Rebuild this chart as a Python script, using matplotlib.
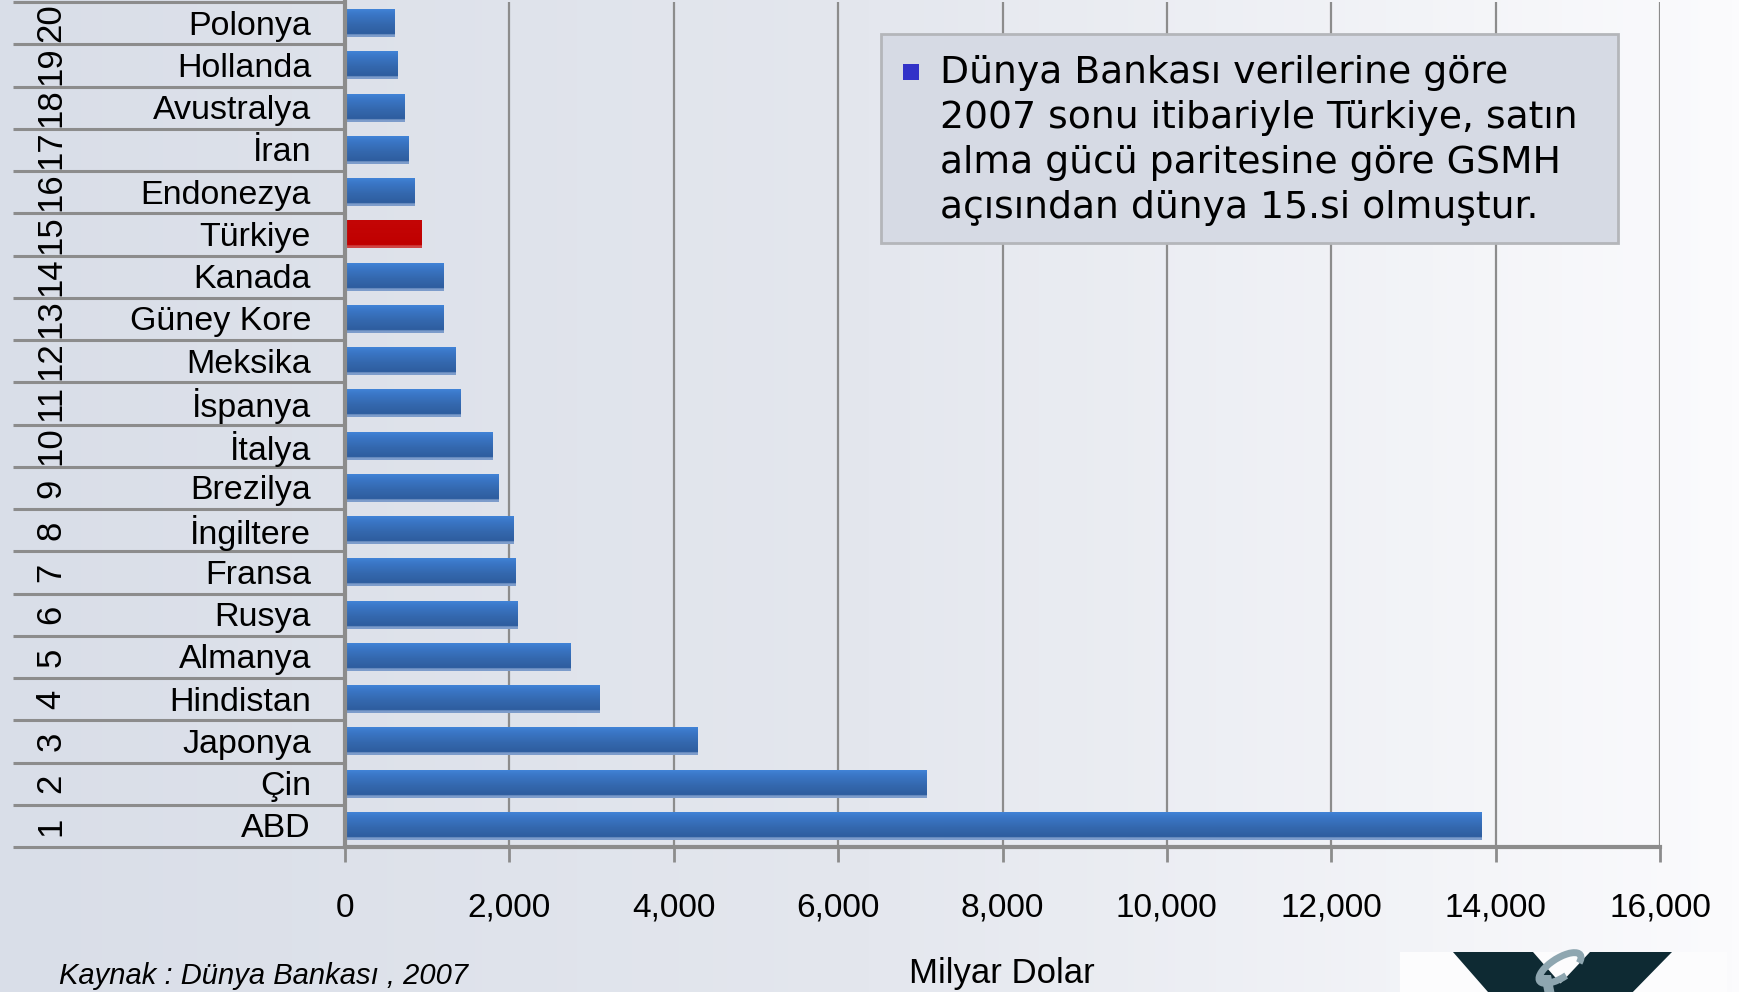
import numpy as np
import matplotlib
matplotlib.use("Agg")
import matplotlib.pyplot as plt
from matplotlib import font_manager
from matplotlib.colors import LinearSegmentedColormap
from matplotlib.patches import Rectangle, Polygon, Arc
import matplotlib.transforms as mtransforms

# ---------------- data ----------------
countries = ["ABD", "Çin", "Japonya", "Hindistan", "Almanya", "Rusya", "Fransa",
             "İngiltere", "Brezilya", "İtalya", "İspanya", "Meksika", "Güney Kore",
             "Kanada", "Türkiye", "Endonezya", "İran", "Avustralya", "Hollanda", "Polonya"]
ranks = [str(i) for i in range(1, 21)]
gdp_ppp = [13830, 7080, 4290, 3095, 2745, 2100, 2075, 2050, 1865, 1790,
           1405, 1340, 1200, 1200, 935, 850, 775, 730, 635, 605]
highlight = "Türkiye"
x_ticks = [0, 2000, 4000, 6000, 8000, 10000, 12000, 14000, 16000]
x_label = "Milyar Dolar"
source = "Kaynak : Dünya Bankası , 2007"
note_lines = ["Dünya Bankası verilerine göre",
              "2007 sonu itibariyle Türkiye, satın",
              "alma gücü paritesine göre GSMH",
              "açısından dünya 15.si olmuştur."]

# ---------------- fonts ----------------
available = {f.name for f in font_manager.fontManager.ttflist}
chart_font = "Liberation Sans" if "Liberation Sans" in available else "DejaVu Sans"
narrow_font = "Liberation Sans Narrow" if "Liberation Sans Narrow" in available else chart_font

W, H = 1739, 992
fig = plt.figure(figsize=(W / 100, H / 100), dpi=100)

# background gradient
bg = fig.add_axes([0, 0, 1, 1], zorder=-10)
bg.axis("off")
grad = np.linspace(0, 1, 256).reshape(1, -1)
bg_cmap = LinearSegmentedColormap.from_list("bg", ["#d9dee8", "#e4e7ee", "#fbfbfd"])
bg.imshow(grad, aspect="auto", cmap=bg_cmap, extent=[0, 1, 0, 1])
bg.set_xlim(0, 1)
bg.set_ylim(0, 1)

# main axes
ax_l, ax_r = 345 / W, 1660 / W
ax_b, ax_t = 1 - 847 / H, 1 - 2 / H
ax = fig.add_axes([ax_l, ax_b, ax_r - ax_l, ax_t - ax_b])
ax.set_facecolor("none")

y = np.arange(len(countries))
bar_h = 0.66
colors = ["#c00000" if c == highlight else "#3570be" for c in countries]
bars = ax.barh(y, gdp_ppp, height=bar_h, color=colors, zorder=3, linewidth=0)

blue_cmap = LinearSegmentedColormap.from_list(
    "bb", [(0, "#7d9ccb"), (0.08, "#7d9ccb"), (0.1, "#2e5d9e"), (0.45, "#3468ae"),
           (0.85, "#3b78c9"), (1, "#4183d6")])
red_cmap = LinearSegmentedColormap.from_list(
    "rb", [(0, "#d04545"), (0.08, "#d04545"), (0.1, "#c00000"), (1, "#c40606")])
vgrad = np.linspace(0, 1, 64).reshape(-1, 1)
for patch, c in zip(bars.patches, countries):
    x0, y0 = patch.get_x(), patch.get_y()
    w, h = patch.get_width(), patch.get_height()
    im = ax.imshow(vgrad, aspect="auto", origin="lower",
                   cmap=red_cmap if c == highlight else blue_cmap,
                   extent=[x0, x0 + w, y0, y0 + h], zorder=4)
    im.set_clip_path(patch)

ax.set_xlim(0, 16000)
ax.set_ylim(-0.5, len(countries) - 0.5)
ax.set_xticks(x_ticks)
ax.set_xticklabels([f"{v:,}" for v in x_ticks], fontsize=24, family=chart_font)
ax.tick_params(axis="x", length=11, width=2, color="#8c8c8c", pad=22)
ax.set_yticks([])
ax.grid(axis="x", color="#8c8c8c", linewidth=1.6, zorder=1)
ax.set_axisbelow(True)
for s in ["top", "right"]:
    ax.spines[s].set_visible(False)
for s in ["left", "bottom"]:
    ax.spines[s].set_color("#8c8c8c")
    ax.spines[s].set_linewidth(3)
    ax.spines[s].set_zorder(5)

# two-level category axis
trans = mtransforms.blended_transform_factory(ax.transAxes, ax.transData)
sep_left = (13 - 345) / 1315
for k in range(len(countries) + 1):
    ax.plot([sep_left, 0], [k - 0.5, k - 0.5], transform=trans, color="#8c8c8c",
            linewidth=2.2, clip_on=False, zorder=2, solid_capstyle="butt")
name_x = (311 - 345) / 1315
rank_x = (51 - 345) / 1315
for yi, (c, r) in enumerate(zip(countries, ranks)):
    ax.text(name_x, yi - 0.07, c, transform=trans, ha="right", va="center",
            fontsize=24.5, family=chart_font, color="black")
    ax.text(rank_x, yi, r, transform=trans, ha="center", va="center",
            fontsize=25, family=chart_font, rotation=90, color="black")

# axis title and source
fig.text(1002 / W, 1 - 973 / H, x_label, ha="center", va="center",
         fontsize=25, family=chart_font)
fig.text(59 / W, 1 - 976 / H, source, ha="left", va="center",
         fontsize=23 if narrow_font != chart_font else 21, family=narrow_font, style="italic")

# note box
box = Rectangle((881 / W, 1 - 243 / H), (1618 - 881) / W, (243 - 34) / H,
                transform=fig.transFigure, facecolor="#d6dae4", edgecolor="#b4b6ba",
                linewidth=2, zorder=6)
fig.patches.append(box)
bullet = Rectangle((903 / W, 1 - 80 / H), 16 / W, 16 / H, transform=fig.transFigure,
                   facecolor="#3232c8", edgecolor="none", zorder=7)
fig.patches.append(bullet)
for i, line in enumerate(note_lines):
    fig.text(940 / W, 1 - (83 + 45 * i) / H, line, ha="left", va="baseline",
             fontsize=27.2, family="DejaVu Sans", color="black", zorder=8)

# logo (decoration, bottom right)
fig.patches.append(Rectangle((1400 / W, 0), (1727 - 1400) / W, 40 / H,
                             transform=fig.transFigure, facecolor="#fcfcfd",
                             edgecolor="none", zorder=6))
dark = "#0e2a33"
lg = [[(1453, 952), (1533, 952), (1575, 1000), (1495, 1000)],
      [(1590, 952), (1672, 952), (1625, 1000), (1545, 1000)]]
for pts in lg:
    fig.patches.append(Polygon([(px / W, 1 - py / H) for px, py in pts],
                               closed=True, transform=fig.transFigure,
                               facecolor=dark, edgecolor="none", zorder=7))
fig.patches.append(Arc((1560 / W, 1 - 968 / H), 26 / W, 36 / H, angle=-35,
                       theta1=60, theta2=330, transform=fig.transFigure,
                       edgecolor="#8ea6b0", linewidth=5, zorder=8))
fig.patches.append(Polygon([(1541 / W, 1 - 975 / H), (1551 / W, 1 - 975 / H),
                            (1556 / W, 1 - 1000 / H), (1546 / W, 1 - 1000 / H)],
                           closed=True, transform=fig.transFigure,
                           facecolor="#8ea6b0", edgecolor="none", zorder=8))

fig.savefig("out.png", dpi=100)
